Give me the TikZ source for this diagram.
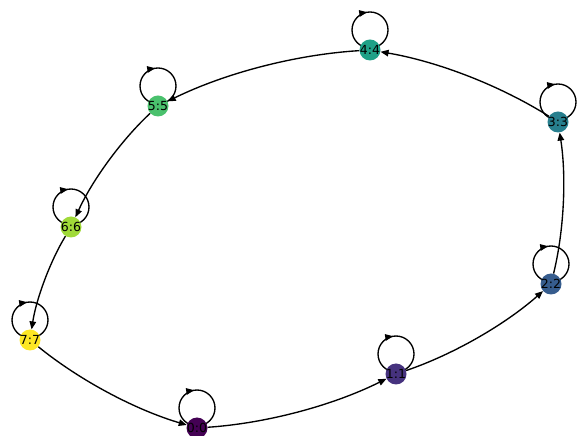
\documentclass[tikz,border=0pt]{standalone}
\usepackage{fontspec}
\setmainfont{DejaVu Sans}
\usetikzlibrary{arrows.meta,calc,decorations.markings,backgrounds}
\definecolor{v0}{HTML}{440154}
\definecolor{v1}{HTML}{46327E}
\definecolor{v2}{HTML}{365C8D}
\definecolor{v3}{HTML}{277F8E}
\definecolor{v4}{HTML}{1FA187}
\definecolor{v5}{HTML}{4AC16D}
\definecolor{v6}{HTML}{A0DA39}
\definecolor{v7}{HTML}{FDE725}
\tikzset{
  vnode/.style={circle, minimum size=21pt, inner sep=0pt, draw=none},
  every label/.style={font=\fontsize{12.5}{12.5}\selectfont, text=black, inner sep=0pt},
  edgest/.style={line width=1.35pt, -{Triangle[length=8pt,width=6.5pt]}},
  loopst/.style={line width=1.35pt, postaction={decorate},
    decoration={markings, mark=at position 0.275 with {\arrowreversed{Triangle[length=8pt,width=6.5pt]}}}}
}
\begin{document}
\begin{tikzpicture}[x=1pt,y=1pt]
\useasboundingbox (0,0) rectangle (578,436);
\node[vnode, fill=v0, label=center:{0:0}] (n0) at (197,8) {};
\node[vnode, fill=v1, label=center:{1:1}] (n1) at (396,62) {};
\node[vnode, fill=v2, label=center:{2:2}] (n2) at (551,152) {};
\node[vnode, fill=v3, label=center:{3:3}] (n3) at (558,314) {};
\node[vnode, fill=v4, label=center:{4:4}] (n4) at (370,386) {};
\node[vnode, fill=v5, label=center:{5:5}] (n5) at (158,330) {};
\node[vnode, fill=v6, label=center:{6:6}] (n6) at (71,209) {};
\node[vnode, fill=v7, label=center:{7:7}] (n7) at (30,96) {};
\begin{scope}[on background layer]
\foreach \a/\b in {0/1,1/2,2/3,3/4,4/5,5/6,6/7,7/0} {
  \path ($(n\a.center)!0.5!(n\b.center)$) coordinate (mid);
  \path ($(mid)!0.2!-90:(n\b.center)$) coordinate (ctl);
  \draw[edgest] (n\a) .. controls ($(n\a.center)!0.6667!(ctl)$) and ($(n\b.center)!0.6667!(ctl)$) .. (n\b);
}
\foreach \a in {0,...,7} {
  \draw[loopst] ([yshift=20pt]n\a.center) circle[radius=18pt];
}
\end{scope}
\end{tikzpicture}
\end{document}
